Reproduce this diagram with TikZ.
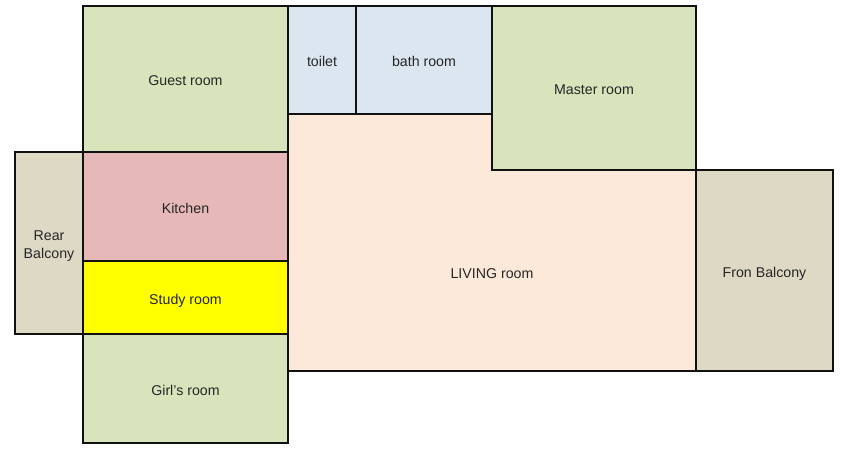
\documentclass[tikz,border=0pt]{standalone}
\usepackage{fontspec}
\setmainfont{Liberation Sans}
\definecolor{roomgreen}{HTML}{D8E4BC}
\definecolor{roomblue}{HTML}{DCE6F1}
\definecolor{roompeach}{HTML}{FDE9D9}
\definecolor{roomtan}{HTML}{DDD9C4}
\definecolor{roompink}{HTML}{E6B8B7}
\definecolor{roomyellow}{HTML}{FFFF00}
\definecolor{wall}{HTML}{111111}
\tikzset{
  x=1pt,y=-1pt,
  wallline/.style={draw=wall,line width=1.6pt,line join=miter},
  room/.style={wallline,rectangle,anchor=north west,inner sep=0pt,outer sep=0pt,align=center,
    text height=16.5pt,text depth=3pt,
    font=\fontsize{14.2}{18}\selectfont,text=black!85},
  roomtext/.style={inner sep=0pt,text height=16.5pt,text depth=3pt,
    font=\fontsize{14.2}{18}\selectfont,text=black!85},
  roomsize/.style 2 args={minimum width=#1pt,minimum height=#2pt},
  greenroom/.style={room,fill=roomgreen},
  blueroom/.style={room,fill=roomblue},
  tanroom/.style={room,fill=roomtan}
}
\begin{document}
\begin{tikzpicture}
\useasboundingbox (0,0) rectangle (850,448);
\draw[wallline,fill=roompeach] (288,114) -- (492,114) -- (492,170) -- (696,170) -- (696,371) -- (288,371) -- cycle;
\node[roomtext] (living) at (492,271.5) {LIVING room};
\node[tanroom,roomsize={68}{182},text height=,text depth=] (rear) at (15,152) {\rule{0pt}{16pt}Rear\\Balcony};
\node[greenroom,roomsize={205}{146}] (guest) at (83,6) {Guest room};
\node[room,fill=roompink,roomsize={205}{109}] (kitchen) at (83,152) {Kitchen};
\node[room,fill=roomyellow,roomsize={205}{73}] (study) at (83,261) {Study room};
\node[greenroom,roomsize={205}{109}] (girl) at (83,334) {Girl's room};
\node[blueroom,roomsize={68}{108}] (toilet) at (288,6) {toilet};
\node[blueroom,roomsize={136}{108}] (bath) at (356,6) {bath room};
\node[greenroom,roomsize={204}{164}] (master) at (492,6) {Master room};
\node[tanroom,roomsize={137}{201}] (front) at (696,170) {Fron Balcony};
\end{tikzpicture}
\end{document}
